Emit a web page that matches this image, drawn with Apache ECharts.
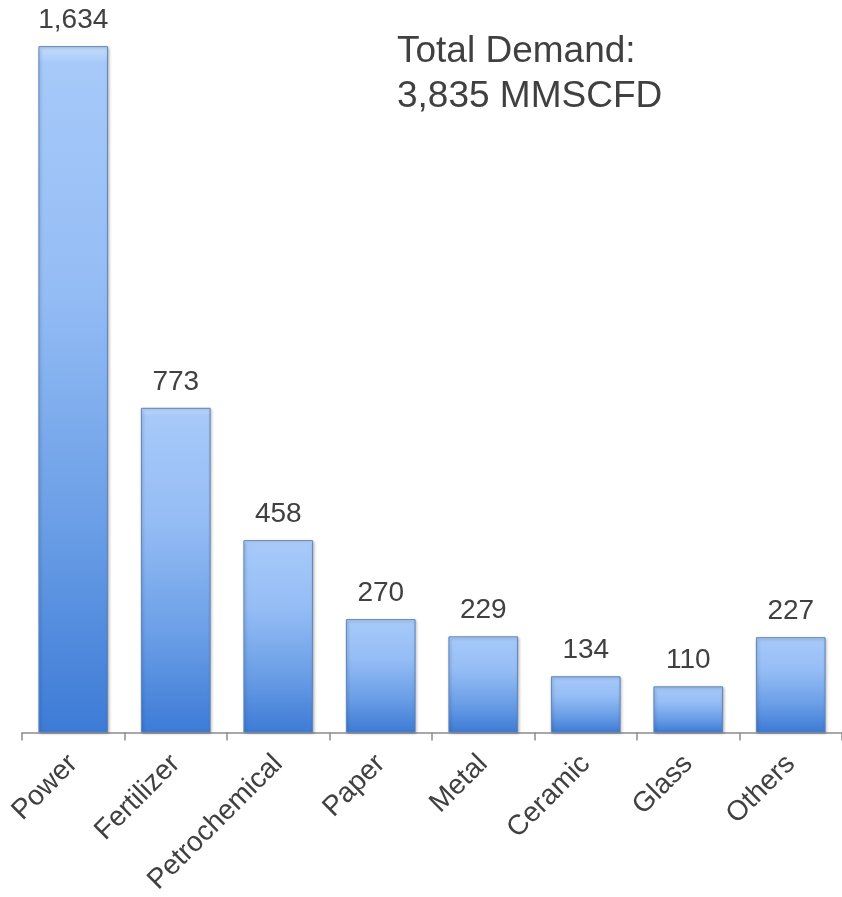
<!DOCTYPE html>
<html>
<head>
<meta charset="utf-8">
<script src="https://cdn.jsdelivr.net/npm/echarts@6/dist/echarts.min.js"></script>
<style>html,body{margin:0;padding:0;background:#fff;}#c{width:842px;height:897px;}</style>
</head>
<body>
<div id="c"></div>
<script>
const categories = ['Power', 'Fertilizer', 'Petrochemical', 'Paper', 'Metal', 'Ceramic', 'Glass', 'Others'];
const demand = [1634, 773, 458, 270, 229, 134, 110, 227];
const titleLines = ['Total Demand:', '3,835 MMSCFD'];

const FONT = 'Liberation Sans, Arial, sans-serif';
const chart = echarts.init(document.getElementById('c'));
chart.setOption({
  animation: false,
  textStyle: { fontFamily: FONT },
  title: {
    text: titleLines.join('\n'),
    left: 392, top: 24,
    textStyle: { fontSize: 37, fontWeight: 'normal', color: '#404040', lineHeight: 45, fontFamily: FONT }
  },
  grid: { left: 22, right: -2, top: 10, bottom: 164, containLabel: false },
  xAxis: {
    type: 'category',
    data: categories,
    axisLine: { lineStyle: { color: '#8c8c8c', width: 1.5 } },
    axisTick: { show: true, length: 8, lineStyle: { color: '#8c8c8c', width: 1.5 } },
    axisLabel: { rotate: 45, fontSize: 28, color: '#404040', margin: 27, interval: 0, fontFamily: FONT }
  },
  yAxis: {
    type: 'value', min: 0, max: 1720,
    show: false, splitLine: { show: false }
  },
  series: [{
    type: 'bar',
    data: demand,
    barCategoryGap: '32%',
    itemStyle: {
      color: {
        type: 'linear', x: 0, y: 0, x2: 0, y2: 1,
        colorStops: [
          { offset: 0, color: '#c6ddfc' },
          { offset: 0.025, color: '#a6c9f9' },
          { offset: 0.35, color: '#95bdf5' },
          { offset: 0.7, color: '#6a9ee6' },
          { offset: 1, color: '#3d7bd6' }
        ]
      },
      borderColor: '#5f86c0',
      borderWidth: 1,
      shadowColor: 'rgba(0,0,0,0.3)',
      shadowBlur: 3,
      shadowOffsetX: 1,
      shadowOffsetY: 1
    },
    label: {
      show: true, position: 'top', distance: 12,
      fontSize: 28, color: '#404040', fontFamily: FONT,
      formatter: p => p.value.toLocaleString('en-US')
    }
  }]
});
</script>
</body>
</html>
